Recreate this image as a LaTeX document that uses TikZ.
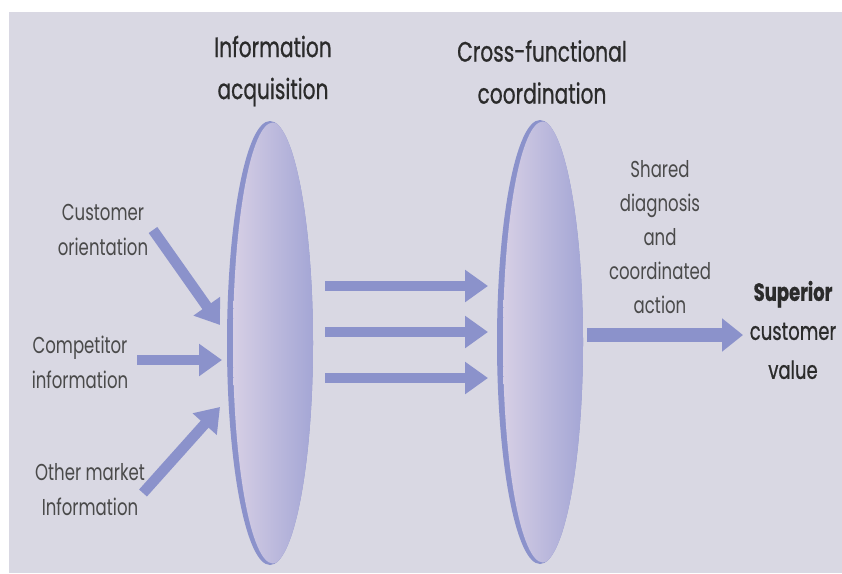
\documentclass[tikz,border=0pt]{standalone}
\usepackage{fontspec}
\setmainfont{Poppins}[FakeStretch=0.72]
\newfontfamily\headfont{Poppins}[FakeStretch=0.72, FakeBold=0.7]
\usetikzlibrary{arrows.meta,shapes.geometric}
\definecolor{bg}{HTML}{D9D8E3}
\definecolor{flow}{HTML}{8B92CB}
\definecolor{lensL}{HTML}{DAD2E6}
\definecolor{lensR}{HTML}{A4A6D5}
\definecolor{ink}{HTML}{2B2B2B}
\definecolor{softink}{HTML}{4A4A4A}
\begin{document}
\begin{tikzpicture}[x=1pt,y=-1pt,
  lens/.style={ellipse, minimum width=86pt, minimum height=444pt, inner sep=0pt,
    fill=flow,
    path picture={\shade[left color=lensL, right color=lensR]
      ([xshift=3pt]path picture bounding box.center)
      ellipse [x radius=40pt, y radius=220.5pt];}},
  heading/.style={align=center, inner sep=0pt, font=\headfont\fontsize{28}{42}\selectfont, text=ink},
  label/.style={align=center, inner sep=0pt, font=\fontsize{23}{35}\selectfont, text=softink},
  result/.style={align=center, inner sep=0pt, font=\headfont\fontsize{25}{39}\selectfont, text=ink},
  flowarrow/.style={draw=flow, line width=10.5pt, -{Triangle[width=31pt,length=23pt]}},
  bigflow/.style={draw=flow, line width=14pt, -{Triangle[width=32pt,length=21pt]}},
]
% canvas
\useasboundingbox (0,0) rectangle (842,573);
\fill[bg] (9,12) rectangle (842,573);

% the two lenses
\node[lens] (acq) at (270,343) {};
\node[lens] (coord) at (540,342) {};

% headings
\node[heading] (hacq) at (273,71) {Information\\acquisition};
\node[heading] (hcoord) at (542,72) {Cross-functional\\coordination};

% inputs
\node[label] (cust) at (103,230) {Customer\\orientation};
\node[label] (comp) at (80,362) {Competitor\\information};
\node[label] (other) at (90,490) {Other market\\Information};

% output side
\node[label, font=\fontsize{23}{34}\selectfont] (shared) at (660,237)
  {Shared\\diagnosis\\and\\coordinated\\action};
\node[result] (value) at (793,330) {\textbf{Superior}\\customer\\value};

% arrow end points
\coordinate (custS) at (153,230);  \coordinate (custE) at (220,325);
\coordinate (compS) at (137,360);  \coordinate (compE) at (222,360);
\coordinate (otherS) at (143,493); \coordinate (otherE) at (220,407);
\coordinate (m1S) at (325,286); \coordinate (m1E) at (488,286);
\coordinate (m2S) at (325,332); \coordinate (m2E) at (488,332);
\coordinate (m3S) at (325,378); \coordinate (m3E) at (488,378);
\coordinate (outS) at (587,335); \coordinate (outE) at (743,335);

% flows into the first lens
\draw[flowarrow] (custS) -- (custE);
\draw[flowarrow] (compS) -- (compE);
\draw[flowarrow] (otherS) -- (otherE);

% flows between the lenses
\draw[flowarrow] (m1S) -- (m1E);
\draw[flowarrow] (m2S) -- (m2E);
\draw[flowarrow] (m3S) -- (m3E);

% flow to the result
\draw[bigflow] (outS) -- (outE);
\end{tikzpicture}
\end{document}
